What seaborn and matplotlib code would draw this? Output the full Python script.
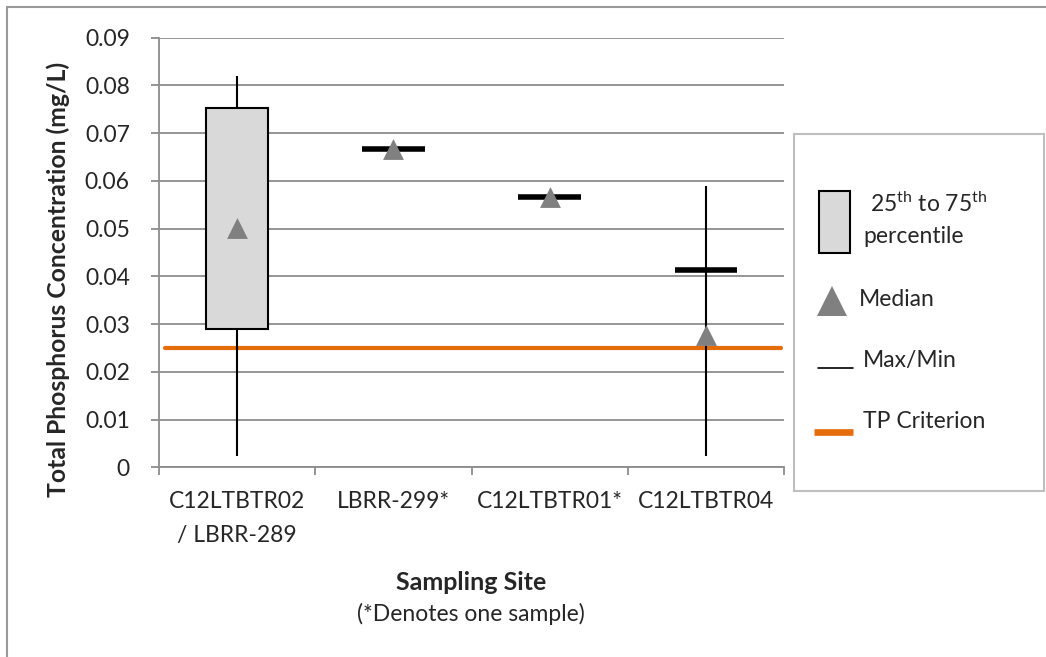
import matplotlib
matplotlib.use("Agg")
import matplotlib.pyplot as plt
import seaborn as sns
import pandas as pd
from matplotlib.patches import Rectangle

# ---------------- data ----------------
sites = ["C12LTBTR02\n/ LBRR-289", "LBRR-299*", "C12LTBTR01*", "C12LTBTR04"]
p25 = [0.0290, 0.0666, 0.0566, 0.0414]
p75 = [0.0753, 0.0666, 0.0566, 0.0414]
medians = [0.0502, 0.0666, 0.0566, 0.0276]
maxima = [0.0820, 0.0666, 0.0566, 0.0590]
minima = [0.0024, 0.0666, 0.0566, 0.0024]
tp_criterion = 0.025
y_ticks = [0, 0.01, 0.02, 0.03, 0.04, 0.05, 0.06, 0.07, 0.08, 0.09]
y_tick_labels = ["0", "0.01", "0.02", "0.03", "0.04", "0.05", "0.06", "0.07", "0.08", "0.09"]

# ---------------- style ----------------
sns.set_style("white")
plt.rcParams["font.family"] = ["Lato", "DejaVu Sans"]
plt.rcParams["mathtext.fontset"] = "custom"
plt.rcParams["mathtext.rm"] = "Lato"
plt.rcParams["mathtext.it"] = "Lato"
plt.rcParams["mathtext.bf"] = "Lato:bold"

FS = 16.5
GRID = "#8c8c8c"
ORANGE = "#E46C0A"
BOXFILL = "#D9D9D9"
TRI = "#808080"

W, H = 1046, 657
fig = plt.figure(figsize=(W / 100, H / 100), dpi=100)
fig.patch.set_facecolor("white")

ax_l, ax_r, ax_t, ax_b = 159, 784, 37.5, 467.3
ax = fig.add_axes([ax_l / W, (H - ax_b) / H, (ax_r - ax_l) / W, (ax_b - ax_t) / H])

df = pd.DataFrame({"site": sites, "p25": p25, "p75": p75, "median": medians,
                   "max": maxima, "min": minima})
df["pos"] = range(len(df))
df["height"] = df["p75"] - df["p25"]

box_w = 0.4

# criterion line
ax.axhline(tp_criterion, xmin=0.009, xmax=0.995, color=ORANGE, lw=3.0, zorder=2)

# whiskers (max/min)
ax.vlines(df["pos"], df["min"], df["max"], color="black", lw=1.5, zorder=3)

# boxes (25th - 75th)
ax.bar(df["pos"], df["height"], bottom=df["p25"], width=box_w, color=BOXFILL,
       edgecolor="black", linewidth=1.5, zorder=4)
flat = df[df["height"] <= 1e-9]
ax.hlines(flat["p25"], flat["pos"] - box_w / 2, flat["pos"] + box_w / 2,
          color="black", lw=4, zorder=4)

# medians
sns.scatterplot(data=df, x="pos", y="median", marker="^", s=225, color=TRI,
                linewidth=0, zorder=5, ax=ax, legend=False)

# axes formatting
ax.set_xlim(-0.5, len(sites) - 0.5)
ax.set_ylim(0, 0.09)
ax.set_yticks(y_ticks)
ax.set_yticklabels(y_tick_labels, fontsize=FS)
ax.set_xticks([i - 0.5 for i in range(len(sites) + 1)])
ax.set_xticklabels([])
ax.set_xticks(list(range(len(sites))), minor=True)
ax.set_xticklabels(sites, minor=True, fontsize=FS, linespacing=1.75)
ax.tick_params(axis="x", which="major", direction="out", length=6, width=1.3,
               color=GRID, bottom=True)
ax.tick_params(axis="x", which="minor", length=0, pad=17)
ax.tick_params(axis="y", direction="out", length=6, width=1.3, color=GRID,
               left=True, pad=15)
ax.grid(axis="y", color=GRID, lw=1.3, zorder=0)
ax.set_axisbelow(True)
for s in ["top", "right"]:
    ax.spines[s].set_visible(False)
for s in ["left", "bottom"]:
    ax.spines[s].set_color(GRID)
    ax.spines[s].set_linewidth(1.3)
ax.set_xlabel("")
ax.set_ylabel("")

# axis titles
fig.text(58 / W, 1 - 279 / H, "Total Phosphorus Concentration (mg/L)", rotation=90,
         ha="center", va="center", fontsize=17.8, fontweight="bold")
fig.text(471 / W, 1 - 582 / H, "Sampling Site", ha="center", va="center",
         fontsize=18, fontweight="bold")
fig.text(471 / W, 1 - 614 / H, "(*Denotes one sample)", ha="center", va="center",
         fontsize=FS)

# legend box
lx, ly, lw_, lh = 794, 134, 250, 357
lg = fig.add_axes([lx / W, (H - ly - lh) / H, lw_ / W, lh / H])
lg.set_xlim(0, lw_)
lg.set_ylim(lh, 0)
lg.set_xticks([])
lg.set_yticks([])
for s in lg.spines.values():
    s.set_color("#BFBFBF")
    s.set_linewidth(1.5)
lg.add_patch(Rectangle((25, 57), 31, 62, facecolor=BOXFILL, edgecolor="black", lw=1.5))
lg.text(76, 77.7, r"25$^{\mathrm{th}}$ to 75$^{\mathrm{th}}$", fontsize=FS, va="baseline")
lg.text(69, 109, "percentile", fontsize=FS, va="baseline")
lg.plot([38], [167], marker="^", ms=21, color=TRI, mew=0, ls="none")
lg.text(65.3, 172, "Median", fontsize=FS, va="baseline")
lg.plot([24.3, 59.3], [234.3, 234.3], color="black", lw=1.2)
lg.text(69.3, 233.3, "Max/Min", fontsize=FS, va="baseline")
lg.plot([20, 59.3], [297.7, 297.7], color=ORANGE, lw=4.8, solid_capstyle="butt")
lg.text(68.7, 294.3, "TP Criterion", fontsize=FS, va="baseline")

# outer chart border
fig.patches.append(Rectangle((7 / W, -0.1), 1.2, 1.1 - 7 / H, transform=fig.transFigure,
                             fill=False, edgecolor="#9a9a9a", lw=1.5, zorder=10))

fig.savefig("out.png", dpi=100, facecolor="white")
